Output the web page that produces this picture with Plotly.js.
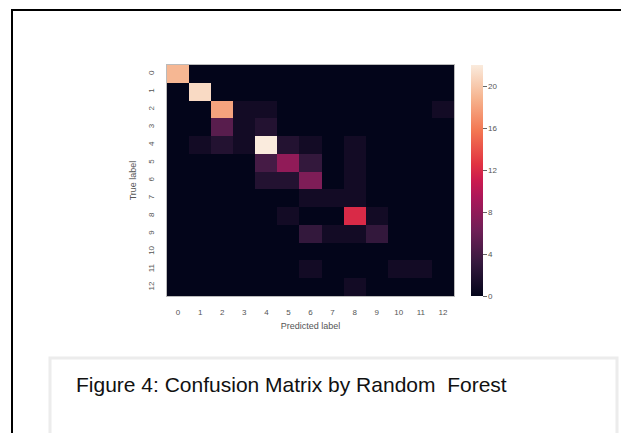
<!DOCTYPE html>
<html>
<head>
<meta charset="utf-8">
<script src="https://cdn.plot.ly/plotly-3.0.1.min.js"></script>
<style>html,body{margin:0;padding:0;background:#fff;}#chart{width:621px;height:433px;}</style>
</head>
<body>
<div id="chart"></div>
<script>
const predictedLabels = [0,1,2,3,4,5,6,7,8,9,10,11,12];
const trueLabels = [0,1,2,3,4,5,6,7,8,9,10,11,12];
const tickText = ["0","1","2","3","4","5","6","7","8","9","10","11","12"];
const row0  = [19,0,0,0,0,0,0,0,0,0,0,0,0];
const row1  = [0,21,0,0,0,0,0,0,0,0,0,0,0];
const row2  = [0,0,18,1,1,0,0,0,0,0,0,0,1];
const row3  = [0,0,5,1,2,0,0,0,0,0,0,0,0];
const row4  = [0,1,2,1,22,2,1,0,1,0,0,0,0];
const row5  = [0,0,0,0,4,8,3,0,1,0,0,0,0];
const row6  = [0,0,0,0,2,2,7,0,1,0,0,0,0];
const row7  = [0,0,0,0,0,0,1,1,1,0,0,0,0];
const row8  = [0,0,0,0,0,1,0,0,12,1,0,0,0];
const row9  = [0,0,0,0,0,0,3,1,1,3,0,0,0];
const row10 = [0,0,0,0,0,0,0,0,0,0,0,0,0];
const row11 = [0,0,0,0,0,0,1,0,0,0,1,1,0];
const row12 = [0,0,0,0,0,0,0,0,1,0,0,0,0];
const matrix = [row0,row1,row2,row3,row4,row5,row6,row7,row8,row9,row10,row11,row12];
const cbTicks = [0,4,8,12,16,20];
const caption = "Figure 4: Confusion Matrix by Random  Forest";

const rocket = [
  [0.0,'#03051A'],[0.143,'#35193E'],[0.286,'#701F57'],[0.429,'#AD1759'],
  [0.5,'#CB1B4F'],[0.571,'#E13342'],[0.714,'#F37651'],[0.857,'#F6B48F'],[1.0,'#FAEBDD']
];

// plot area in px: x 167-454, y 65-296
const L=167,R=454,T=65,B=296,W=R-L,H=B-T;
const px=v=>(v-L)/W, py=v=>(B-v)/H;

const trace = {
  type:'heatmap', x:predictedLabels, y:trueLabels, z:matrix,
  colorscale:rocket, zmin:0, zmax:22, xgap:0, ygap:0, hoverinfo:'z',
  colorbar:{
    x:px(471), xanchor:'left', xref:'paper', xpad:0, ypad:0, y:0, yanchor:'bottom', len:1, lenmode:'fraction',
    thickness:12, outlinewidth:0, tickvals:cbTicks, ticks:'outside', ticklen:4, tickcolor:'#666',
    tickfont:{family:'Liberation Sans, Arial, sans-serif', size:8, color:'#555'}
  }
};

const layout = {
  width:621, height:433, paper_bgcolor:'#fff', plot_bgcolor:'#03051A',
  margin:{l:L, r:621-R, t:T, b:433-B},
  font:{family:'Liberation Sans, Arial, sans-serif', color:'#555'},
  xaxis:{tickvals:predictedLabels, ticktext:tickText, range:[-0.5,12.5], showgrid:false, zeroline:false,
         ticks:'', ticklabelstandoff:8, tickfont:{size:8,color:'#555'}, showline:true, mirror:true, linecolor:'#bbb', linewidth:1,
         title:{text:'Predicted label', font:{size:9,color:'#555'}, standoff:7}},
  yaxis:{tickvals:trueLabels, ticktext:tickText, range:[12.5,-0.5], showgrid:false, zeroline:false,
         ticks:'', tickangle:-90, ticklabelstandoff:9, tickfont:{size:8,color:'#555'}, showline:true, mirror:true, linecolor:'#bbb', linewidth:1,
         title:{text:'True label', font:{size:9,color:'#555'}, standoff:8}},
  shapes:[
    {type:'line', xref:'paper', yref:'paper', x0:px(11), x1:px(621), y0:py(10), y1:py(10), line:{color:'#000', width:2}},
    {type:'line', xref:'paper', yref:'paper', x0:px(12), x1:px(12), y0:py(9), y1:py(433), line:{color:'#000', width:2}},
    {type:'rect', xref:'paper', yref:'paper', x0:px(50), x1:px(617), y0:py(358), y1:py(436), line:{color:'#ececec', width:3}, fillcolor:'rgba(0,0,0,0)'}
  ],
  annotations:[
    {xref:'paper', yref:'paper', x:px(74), y:py(384), xanchor:'left', yanchor:'middle', showarrow:false,
     text:caption, font:{family:'Liberation Sans, Arial, sans-serif', size:21, color:'#111'}}
  ]
};

Plotly.newPlot('chart',[trace],layout,{displayModeBar:false, staticPlot:true});
</script>
</body>
</html>
